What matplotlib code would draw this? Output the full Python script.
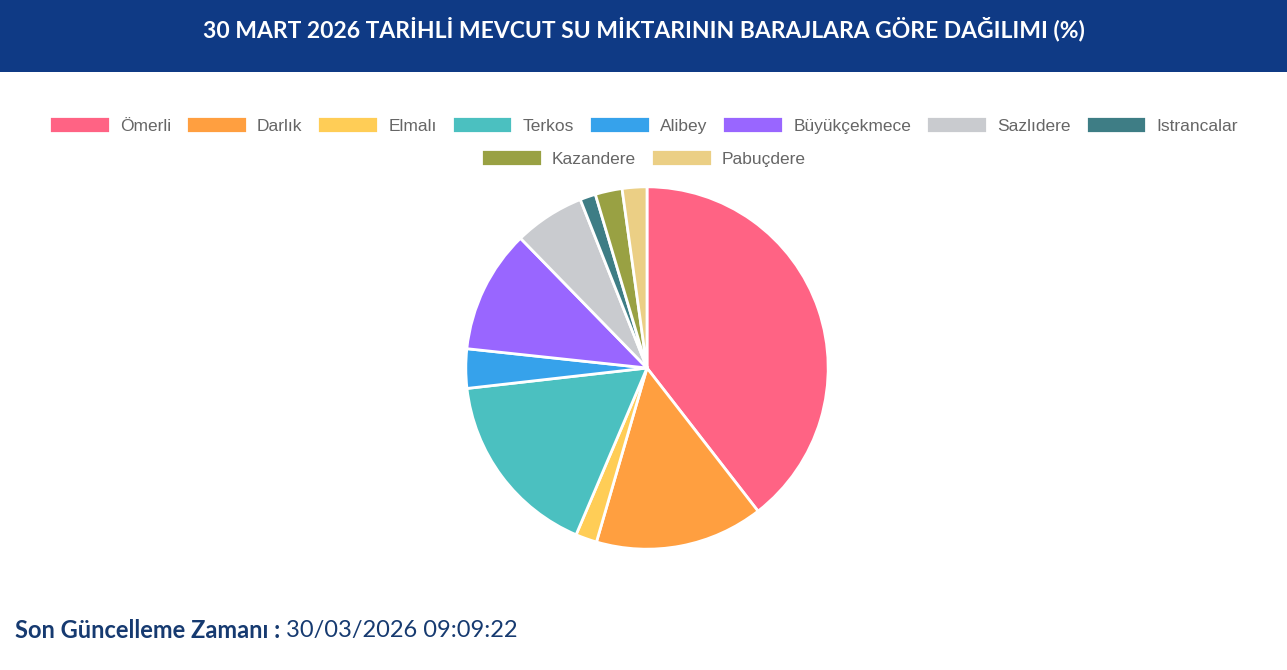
import matplotlib.pyplot as plt
from matplotlib.patches import Rectangle

dams = ['Ömerli', 'Darlık', 'Elmalı', 'Terkos', 'Alibey', 'Büyükçekmece',
        'Sazlıdere', 'Istrancalar', 'Kazandere', 'Pabuçdere']
shares = [39.5, 15.0, 1.9, 16.8, 3.5, 11.0, 6.3, 1.4, 2.4, 2.2]
colors = ['#ff6384', '#ff9f40', '#ffcd56', '#4bc0c0', '#36a2eb', '#9966ff',
          '#c9cbcf', '#3e7d85', '#99a143', '#ebcf85']

title = '30 MART 2026 TARİHLİ MEVCUT SU MİKTARININ BARAJLARA GÖRE DAĞILIMI (%)'
update_label = 'Son Güncelleme Zamanı :'
update_value = ' 30/03/2026 09:09:22'

W, H = 1287, 670
fig = plt.figure(figsize=(W / 100, H / 100), dpi=100)

# header band
fig.patches.append(Rectangle((0, 1 - 72 / H), 1, 72 / H, transform=fig.transFigure,
                             facecolor='#0f3a85', edgecolor='none', zorder=0))
fig.text(0.5, 1 - 29 / H, title, color='white', fontsize=16.5, fontweight='bold',
         family='Lato', ha='center', va='center')

# pie
cx, cy, r = 647, 368, 183
ax = fig.add_axes([(cx - r) / W, (H - cy - r) / H, 2 * r / W, 2 * r / H])
wedges, _ = ax.pie(shares, colors=colors, startangle=90, counterclock=False,
                   radius=1, wedgeprops=dict(edgecolor='white', linewidth=2))
ax.set_xlim(-1.01, 1.01)
ax.set_ylim(-1.01, 1.01)
ax.set_aspect('equal')
ax.axis('off')

# legend, two centred rows
leg_kw = dict(frameon=False, handlelength=3.5, handleheight=1.1, columnspacing=0.85,
              handletextpad=0.6, borderaxespad=0, borderpad=0,
              prop=dict(family='Liberation Sans', size=12.5), labelcolor='#666666')
fig.legend(wedges[:8], dams[:8], ncol=8, loc='center',
           bbox_to_anchor=(0.5, 1 - 125 / H), **leg_kw)
fig.legend(wedges[8:], dams[8:], ncol=2, loc='center',
           bbox_to_anchor=(0.5, 1 - 158 / H), **leg_kw)

# footer
t1 = fig.text(15 / W, 1 - 630 / H, update_label, color='#163a70', fontsize=17,
              fontweight='bold', family='Lato', ha='left', va='center')
fig.canvas.draw()
bb = t1.get_window_extent()
fig.text(bb.x1 / W, 1 - 630 / H, update_value, color='#163a70', fontsize=17,
         family='Lato', ha='left', va='center')

fig.savefig('out.png', dpi=100)
